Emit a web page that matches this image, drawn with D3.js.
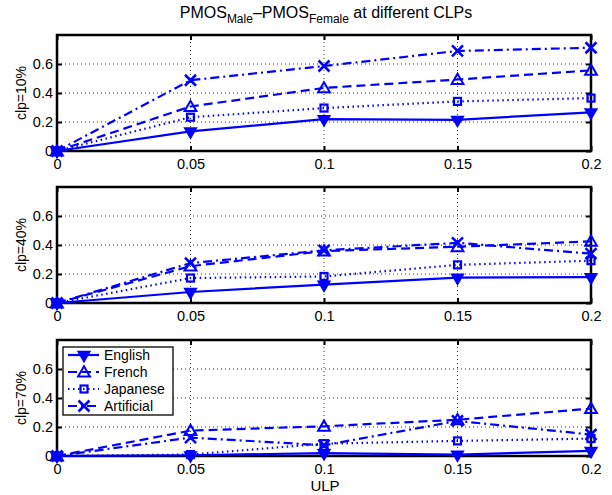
<!DOCTYPE html>
<html>
  <head>
    <title>PMOS Male - Female</title>
    <script src="https://d3js.org/d3.v7.min.js"></script>
    <style>
      body { margin: 0; background: #fff; }
      text { font-family: "Liberation Sans", Arial, sans-serif; }
    </style>
  </head>
  <body>
    <div id="chart"></div>

    <script>
      // data
      const ulp = [0, 0.05, 0.1, 0.15, 0.2];
      const panels = ["clp=10%", "clp=40%", "clp=70%"];
      const languages = ["English", "French", "Japanese", "Artificial"];

      const english = [
        [0, 0.135, 0.22, 0.215, 0.267],
        [0, 0.076, 0.127, 0.175, 0.178],
        [0, 0.005, 0.02, 0.01, 0.035]
      ];
      const french = [
        [0, 0.307, 0.435, 0.493, 0.556],
        [0, 0.254, 0.358, 0.388, 0.425],
        [0, 0.175, 0.205, 0.25, 0.327]
      ];
      const japanese = [
        [0, 0.233, 0.296, 0.342, 0.365],
        [0, 0.172, 0.183, 0.263, 0.292],
        [0, 0.01, 0.085, 0.104, 0.12]
      ];
      const artificial = [
        [0, 0.488, 0.586, 0.69, 0.712],
        [0, 0.275, 0.363, 0.415, 0.34],
        [0, 0.127, 0.074, 0.242, 0.148]
      ];

      const xTicks = [0, 0.05, 0.1, 0.15, 0.2];
      const yTicks = [0, 0.2, 0.4, 0.6];

      const series = [english, french, japanese, artificial];
      const dashes = ["none", "9,5", "1.5,3.5", "9,4,2,4"];
      const blue = "#0000ff";

      const width = 612, height = 495;
      const svg = d3.select("#chart").append("svg")
        .attr("width", width).attr("height", height);

      const x = d3.scaleLinear().domain([0, 0.2]).range([57, 591]);

      // marker shapes
      function marker(g, k, cx, cy) {
        if (k === 0) {
          g.append("path")
            .attr("d", d3.symbol().type(d3.symbolTriangle).size(60)())
            .attr("transform", `translate(${cx},${cy}) rotate(180)`)
            .attr("fill", blue).attr("stroke", blue).attr("stroke-width", 1.5);
        } else if (k === 1) {
          g.append("path")
            .attr("d", d3.symbol().type(d3.symbolTriangle).size(60)())
            .attr("transform", `translate(${cx},${cy + 1})`)
            .attr("fill", "none").attr("stroke", blue).attr("stroke-width", 2);
        } else if (k === 2) {
          g.append("rect")
            .attr("x", cx - 3.5).attr("y", cy - 3.5)
            .attr("width", 7).attr("height", 7)
            .attr("fill", "none").attr("stroke", blue).attr("stroke-width", 2.2);
        } else {
          g.append("path")
            .attr("d", `M${cx - 5.5},${cy - 5.5}L${cx + 5.5},${cy + 5.5}M${cx - 5.5},${cy + 5.5}L${cx + 5.5},${cy - 5.5}`)
            .attr("stroke", blue).attr("stroke-width", 2.6);
        }
      }

      const panelTop = [35, 187, 340];
      const panelH = 116;

      panels.forEach((label, p) => {
        const y = d3.scaleLinear().domain([0, 0.8]).range([panelTop[p] + panelH, panelTop[p]]);
        const g = svg.append("g");

        // grid
        g.selectAll(".gx").data(xTicks.slice(1, -1)).enter().append("line")
          .attr("x1", d => x(d)).attr("x2", d => x(d))
          .attr("y1", y(0)).attr("y2", y(0.8))
          .attr("stroke", "#333").attr("stroke-width", 1).attr("stroke-dasharray", "1,3");
        g.selectAll(".gy").data(yTicks.slice(1)).enter().append("line")
          .attr("x1", x(0)).attr("x2", x(0.2))
          .attr("y1", d => y(d)).attr("y2", d => y(d))
          .attr("stroke", "#333").attr("stroke-width", 1).attr("stroke-dasharray", "1,3");

        // axes, ticks inward
        const ax = g.append("g").attr("transform", `translate(0,${y(0)})`)
          .call(d3.axisBottom(x).tickValues(xTicks).tickSize(-5).tickPadding(8).tickFormat(d => d));
        const ay = g.append("g").attr("transform", `translate(${x(0)},0)`)
          .call(d3.axisLeft(y).tickValues(yTicks).tickSize(-5).tickPadding(4).tickFormat(d => d));
        const axTop = g.append("g").attr("transform", `translate(0,${y(0.8)})`)
          .call(d3.axisTop(x).tickValues(xTicks).tickSize(-5).tickFormat(""));
        const ayR = g.append("g").attr("transform", `translate(${x(0.2)},0)`)
          .call(d3.axisRight(y).tickValues(yTicks).tickSize(-5).tickFormat(""));
        [ax, ay, axTop, ayR].forEach(a => {
          a.select(".domain").remove();
          a.selectAll("line").attr("stroke", "#000").attr("stroke-width", 2);
          a.selectAll("text").attr("fill", "#000").style("font-size", "14.5px")
            .style("font-family", "'Liberation Sans', Arial, sans-serif");
        });
        g.append("rect")
          .attr("x", x(0)).attr("y", y(0.8))
          .attr("width", x(0.2) - x(0)).attr("height", y(0) - y(0.8))
          .attr("fill", "none").attr("stroke", "#000").attr("stroke-width", 2.5);

        // y label
        g.append("text")
          .attr("transform", `translate(26,${(y(0) + y(0.8)) / 2}) rotate(-90)`)
          .attr("text-anchor", "middle")
          .style("font-size", "14px")
          .text(label);

        // series
        series.forEach((s, k) => {
          const pts = ulp.map((u, i) => [x(u), y(s[p][i])]);
          g.append("path")
            .attr("d", d3.line()(pts))
            .attr("fill", "none").attr("stroke", blue)
            .attr("stroke-width", 2.2)
            .attr("stroke-dasharray", dashes[k]);
          pts.forEach(pt => marker(g, k, pt[0], pt[1]));
        });
      });

      // legend in bottom panel
      const lg = svg.append("g");
      lg.append("rect")
        .attr("x", 63).attr("y", 347).attr("width", 110).attr("height", 68)
        .attr("fill", "#fff").attr("stroke", "#000").attr("stroke-width", 1.3);
      languages.forEach((name, k) => {
        const ly = 355 + k * 17;
        lg.append("line")
          .attr("x1", 68).attr("x2", 99).attr("y1", ly).attr("y2", ly)
          .attr("stroke", blue).attr("stroke-width", 2.2)
          .attr("stroke-dasharray", dashes[k]);
        marker(lg, k, 84, ly);
        lg.append("text")
          .attr("x", 104).attr("y", ly + 5)
          .style("font-size", "14px")
          .text(name);
      });

      // title
      const title = svg.append("text")
        .attr("x", 326).attr("y", 18)
        .attr("text-anchor", "middle")
        .style("font-size", "16px");
      title.append("tspan").text("PMOS");
      title.append("tspan").attr("dy", 5).style("font-size", "12px").text("Male");
      title.append("tspan").attr("dy", -5).text("\u2013PMOS");
      title.append("tspan").attr("dy", 5).style("font-size", "12px").text("Female");
      title.append("tspan").attr("dy", -5).text(" at different CLPs");

      // x label
      svg.append("text")
        .attr("x", 325).attr("y", 491)
        .attr("text-anchor", "middle")
        .style("font-size", "15px")
        .text("ULP");
    </script>
  </body>
</html>
